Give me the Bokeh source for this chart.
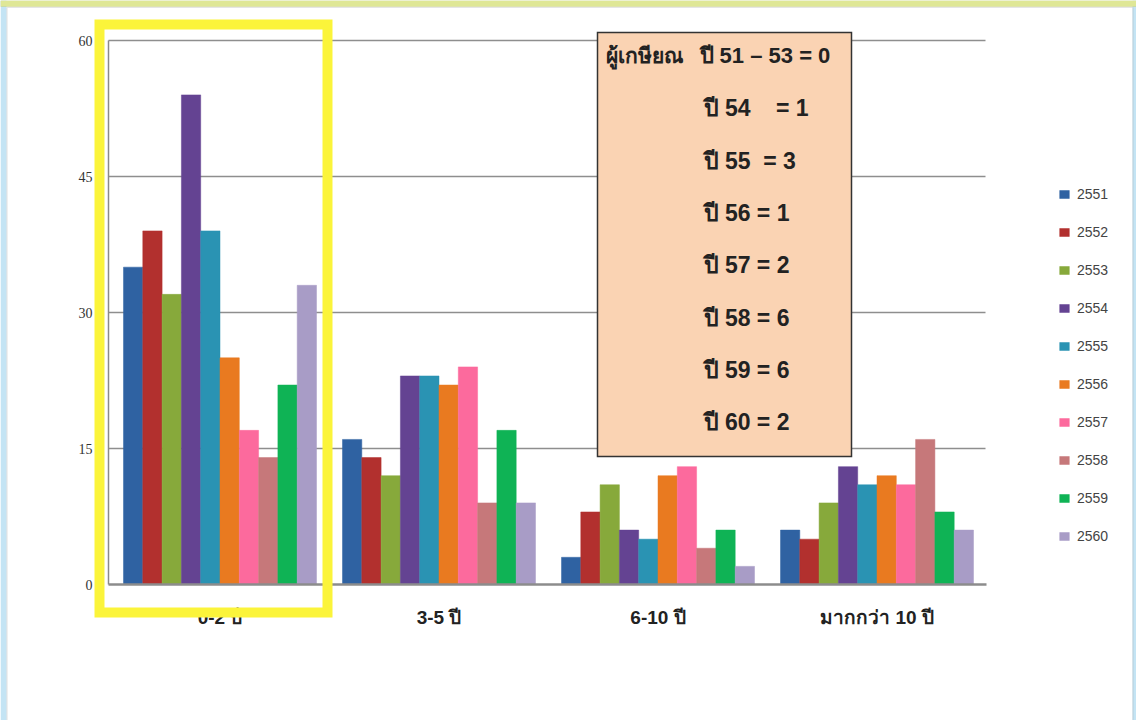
import numpy as np
from bokeh.plotting import figure
from bokeh.models import (Range1d, LinearAxis, FixedTicker, BoxAnnotation, Label,
                          Legend, LegendItem, ColumnDataSource)
from bokeh.embed import file_html
from bokeh.resources import INLINE

# ---------------- data ----------------
categories = ["0-2 ปี", "3-5 ปี", "6-10 ปี", "มากกว่า 10 ปี"]
years = ["2551", "2552", "2553", "2554", "2555", "2556", "2557", "2558", "2559", "2560"]
counts_2551 = [35, 16, 3, 6]
counts_2552 = [39, 14, 8, 5]
counts_2553 = [32, 12, 11, 9]
counts_2554 = [54, 23, 6, 13]
counts_2555 = [39, 23, 5, 11]
counts_2556 = [25, 22, 12, 12]
counts_2557 = [17, 24, 13, 11]
counts_2558 = [14, 9, 4, 16]
counts_2559 = [22, 17, 6, 8]
counts_2560 = [33, 9, 2, 6]
y_ticks = [0, 15, 30, 45, 60]
retiree_head = "ผู้เกษียณ"
NB = "\u00a0"
retiree_lines = ["ปี 51 – 53 = 0",
                 "ปี 54" + NB * 4 + "= 1",
                 "ปี 55" + NB * 2 + "= 3",
                 "ปี 56 = 1", "ปี 57 = 2", "ปี 58 = 6", "ปี 59 = 6", "ปี 60 = 2"]

series = [counts_2551, counts_2552, counts_2553, counts_2554, counts_2555,
          counts_2556, counts_2557, counts_2558, counts_2559, counts_2560]
colors = ["#2f62a2", "#b2302e", "#87a93b", "#644392", "#2a93b3",
          "#e97a20", "#fc6a9d", "#c6787a", "#0fb355", "#a89cc6"]

# ---------------- layout (page pixels -> data) ----------------
W, H = 1136, 720
GROUP_PX = 219.0
X0_PAGE = 219.5          # page x of first group centre
Y0_PAGE = 584.0          # page y of value 0
PX_PER_UNIT = 544.0 / 60.0


def px2x(page_x):
    return (page_x - X0_PAGE) / GROUP_PX


def px2y(page_y):
    return (Y0_PAGE - page_y) / PX_PER_UNIT


p = figure(width=W, height=H,
           x_range=Range1d(px2x(0), px2x(W)),
           y_range=Range1d(px2y(H), px2y(0)),
           x_axis_type=None, y_axis_type=None,
           toolbar_location=None, output_backend="svg", min_border=0)
p.background_fill_color = "white"
p.border_fill_color = "white"
p.outline_line_color = None

# slide frame decoration
p.add_layout(BoxAnnotation(left=px2x(0), right=px2x(6), top=px2y(0), bottom=px2y(H),
                           fill_color="#c4e4f4", fill_alpha=1, line_alpha=0, level="underlay"))
p.add_layout(BoxAnnotation(left=px2x(1132), right=px2x(W), top=px2y(0), bottom=px2y(H),
                           fill_color="#c4e4f4", fill_alpha=1, line_alpha=0, level="underlay"))
p.add_layout(BoxAnnotation(left=px2x(0), right=px2x(W), top=px2y(0), bottom=px2y(6),
                           fill_color="#dfe796", fill_alpha=1, line_color="#b7bf6c",
                           line_width=1, level="underlay"))
p.add_layout(BoxAnnotation(left=px2x(6.5), right=px2x(1132.5), top=px2y(7), bottom=px2y(H + 2),
                           fill_alpha=0, line_color="#a9a9a9", line_width=1.2, level="underlay"))

# gridlines
grid_y = [t for t in y_ticks if t > 0]
p.segment(x0=[px2x(108)] * len(grid_y), x1=[px2x(985)] * len(grid_y),
          y0=grid_y, y1=grid_y, line_color="#8e8e8e", line_width=1.5)

# bars
n = len(series)
bw = 193.0 / GROUP_PX / n
renderers = []
for j, (vals, col) in enumerate(zip(series, colors)):
    xs = np.arange(len(categories)) + (j - (n - 1) / 2) * bw
    src = ColumnDataSource(dict(x=xs, top=vals))
    r = p.vbar(x="x", top="top", bottom=0, width=bw, source=src,
               fill_color=col, line_color=col, line_width=0.5)
    renderers.append(r)

# axes
yax = LinearAxis(fixed_location=px2x(108), ticker=FixedTicker(ticks=y_ticks), bounds=(0, 60))
yax.axis_line_color = "#8a8a8a"
yax.axis_line_width = 1.5
yax.major_tick_line_color = None
yax.minor_tick_line_color = None
yax.major_tick_out = 0
yax.major_label_standoff = 16
yax.major_label_text_font = "Liberation Serif"
yax.major_label_text_font_size = "14px"
yax.major_label_text_color = "#333333"
p.add_layout(yax, "left")

xax = LinearAxis(fixed_location=0, ticker=FixedTicker(ticks=list(range(len(categories)))),
                 bounds=(px2x(108), px2x(986)),
                 major_label_overrides={i: c for i, c in enumerate(categories)})
xax.axis_line_color = "#8c8c8c"
xax.axis_line_width = 2.5
xax.major_tick_line_color = None
xax.minor_tick_line_color = None
xax.major_tick_out = 0
xax.major_label_standoff = 22
xax.major_label_text_font = "Liberation Sans"
xax.major_label_text_font_size = "19px"
xax.major_label_text_font_style = "bold"
xax.major_label_text_color = "#222222"
p.add_layout(xax, "below")

# yellow highlight frame
p.add_layout(BoxAnnotation(left=px2x(99), right=px2x(327), top=px2y(24), bottom=px2y(612),
                           fill_alpha=0, line_color="#fbf43a", line_width=10, line_alpha=1,
                           line_join="miter"))

# retiree note box
p.add_layout(BoxAnnotation(left=px2x(597), right=px2x(851), top=px2y(32), bottom=px2y(456),
                           fill_color="#fad3b3", fill_alpha=1, line_color="#333333",
                           line_width=1.5, line_alpha=1, line_join="miter"))
p.add_layout(Label(x=px2x(605), y=px2y(55), text=retiree_head, text_font="Liberation Sans",
                   text_font_style="bold", text_font_size="21px", text_color="#222222",
                   text_baseline="middle", text_align="left"))
row_y = [55, 107, 160, 212, 264, 317, 369, 421]
for k, (t, yy) in enumerate(zip(retiree_lines, row_y)):
    xx = 699 if k == 0 else 703
    fs = "22px" if k == 0 else "23px"
    p.add_layout(Label(x=px2x(xx), y=px2y(yy), text=t, text_font="Liberation Sans",
                       text_font_style="bold", text_font_size=fs, text_color="#222222",
                       text_baseline="middle", text_align="left"))

# legend (location = bottom-left corner, y measured from canvas bottom)
items = [LegendItem(label=yr, renderers=[r]) for yr, r in zip(years, renderers)]
legend = Legend(items=items, location=(1058, 176), orientation="vertical")
legend.glyph_width = 12
legend.glyph_height = 10
legend.label_height = 10
legend.spacing = 22
legend.label_standoff = 7
legend.padding = 0
legend.margin = 0
legend.border_line_color = None
legend.background_fill_alpha = 0
legend.label_text_font = "Liberation Sans"
legend.label_text_font_size = "14px"
legend.label_text_color = "#444444"
p.add_layout(legend)

open("out.html", "w").write(file_html(p, INLINE))
